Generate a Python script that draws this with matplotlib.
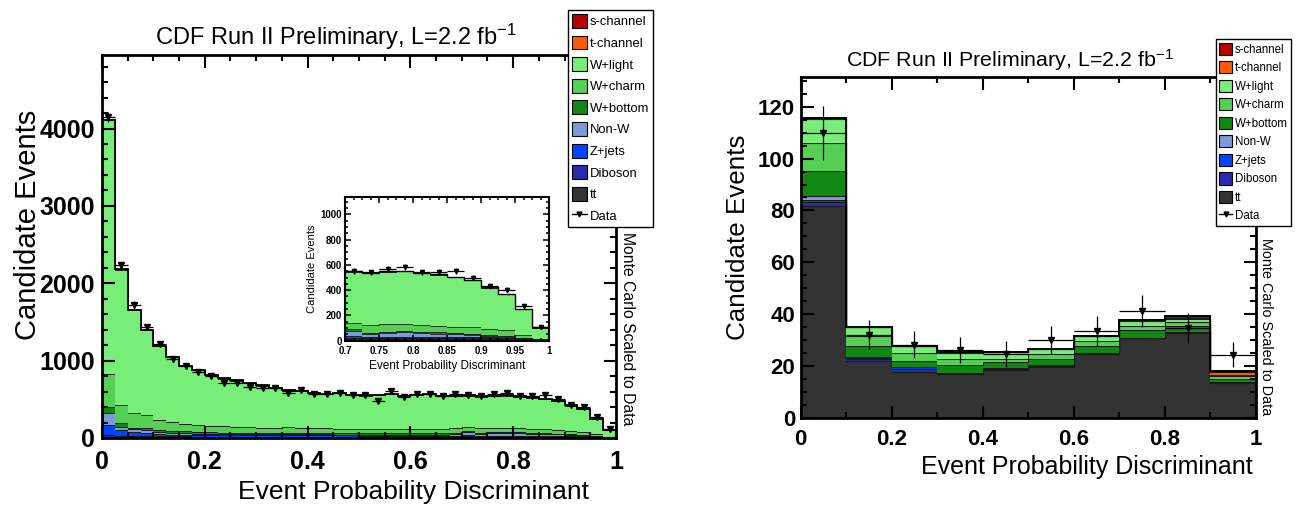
import numpy as np
import matplotlib
matplotlib.use("Agg")
import matplotlib.pyplot as plt
from matplotlib.patches import Patch
from matplotlib.lines import Line2D
from matplotlib.ticker import MultipleLocator, FuncFormatter

plt.rcParams["font.family"] = ["Liberation Sans", "DejaVu Sans"]
plt.rcParams["mathtext.default"] = "regular"

# ---------------------------------------------------------------------------
# Data
# ---------------------------------------------------------------------------

# legend order (top of stack first)
labels = ["s-channel", "t-channel", "W+light", "W+charm", "W+bottom",
          "Non-W", "Z+jets", "Diboson", "tt"]
colors = ["#b30000", "#ff5a00", "#77ee77", "#55d055", "#118811",
          "#7b9bd6", "#0044ff", "#2a2aaa", "#333333"]

# left panel: 40 bins from 0 to 1
left_tt = [12, 10, 10, 9, 9, 8, 8, 8, 8, 8, 8, 8, 8, 8, 8, 8, 8, 8, 8, 8,
           8, 8, 8, 8, 8, 8, 8, 8, 10, 10, 10, 10, 10, 10, 10, 10, 10, 8, 5, 3]
left_diboson = [25, 18, 16, 14, 13, 12, 12, 11, 11, 11, 11, 11, 11, 11, 11, 11, 11, 11, 11, 11,
                11, 11, 11, 11, 11, 11, 11, 11, 12, 12, 12, 12, 12, 11, 11, 11, 10, 8, 5, 2]
left_zjets = [130, 70, 50, 40, 28, 25, 22, 20, 18, 17, 16, 16, 15, 15, 14, 14, 14, 14, 14, 14,
              13, 13, 13, 13, 13, 13, 13, 13, 12, 10, 10, 10, 10, 10, 10, 10, 9, 7, 4, 2]
left_nonw = [160, 50, 35, 36, 25, 22, 20, 18, 16, 15, 15, 14, 14, 13, 20, 14, 13, 13, 12, 12,
             12, 12, 12, 12, 12, 12, 12, 20, 46, 25, 30, 35, 28, 25, 22, 16, 12, 10, 4, 2]
left_wbottom = [70, 45, 18, 30, 25, 24, 22, 20, 19, 18, 17, 17, 16, 16, 18, 16, 16, 15, 15, 15,
                15, 15, 15, 15, 15, 15, 15, 18, 13, 8, 10, 12, 12, 10, 9, 8, 7, 8, 4, 2]
left_wcharm = [430, 230, 195, 165, 130, 115, 100, 90, 85, 80, 75, 72, 70, 68, 72, 65, 62, 62, 60, 58,
               58, 60, 58, 56, 55, 55, 55, 62, 47, 58, 60, 55, 56, 52, 50, 53, 45, 40, 27, 3]
left_wlight = [3280, 1754, 1333, 1103, 957, 836, 748, 710, 660, 618, 600, 569, 543, 511, 469, 479,
               458, 449, 457, 439, 432, 438, 452, 427, 443, 453, 423, 407, 407, 412, 413, 415,
               406, 404, 390, 371, 326, 288, 200, 88]
left_tchan = [2, 2, 2, 2, 2, 2, 2, 2, 2, 2, 2, 2, 2, 2, 2, 2, 2, 2, 2, 2,
              2, 2, 2, 2, 2, 2, 2, 2, 2, 2, 2, 2, 2, 2, 2, 2, 2, 2, 2, 2]
left_schan = [1, 1, 1, 1, 1, 1, 1, 1, 1, 1, 1, 1, 1, 1, 1, 1, 1, 1, 1, 1,
              1, 1, 1, 1, 1, 1, 1, 1, 1, 1, 1, 1, 1, 1, 1, 1, 1, 1, 1, 1]
left_data = [4150, 2230, 1725, 1432, 1210, 1015, 927, 848, 802, 715, 715, 658, 645, 650, 586, 615,
             564, 564, 577, 551, 551, 477, 606, 529, 564, 564, 538, 564, 555, 540, 570, 580,
             540, 545, 550, 500, 430, 405, 275, 110]
left_err = [64, 47, 42, 38, 35, 32, 30, 29, 28, 27, 27, 26, 25, 25, 24, 25, 24, 24, 24, 23,
            23, 22, 25, 23, 24, 24, 23, 24, 24, 23, 24, 24, 23, 23, 23, 22, 21, 20, 17, 10]

# right panel: 10 bins from 0 to 1
right_tt = [81.7, 22.1, 17.9, 17.0, 18.5, 19.8, 24.7, 30.8, 32.8, 13.5]
right_diboson = [1.6, 0.9, 1.0, 0.4, 0.4, 0.3, 0.2, 0.1, 0.2, 0.2]
right_zjets = [0.9, 0.4, 0.7, 0.1, 0.2, 0.2, 0.1, 0.1, 0.1, 0.1]
right_nonw = [1.4, 0.3, 0.2, 0.1, 0.1, 0.2, 0.1, 0.1, 0.2, 0.2]
right_wbottom = [9.5, 4.2, 2.3, 3.0, 2.3, 2.5, 2.6, 2.9, 2.3, 1.3]
right_wcharm = [10.9, 3.8, 2.9, 2.4, 1.5, 1.7, 1.9, 1.6, 1.3, 1.0]
right_wlight = [9.4, 3.3, 2.8, 2.2, 2.4, 1.8, 1.9, 1.7, 1.3, 0.3]
right_tchan = [0.1, 0.1, 0.1, 0.3, 0.1, 0.1, 0.1, 0.4, 0.5, 1.2]
right_schan = [0.1, 0.1, 0.1, 0.1, 0.1, 0.1, 0.1, 0.3, 0.6, 0.4]
right_data = [110, 32.2, 28.3, 26.3, 24.7, 30.2, 33.5, 41.4, 34.6, 24.5]
right_err = [10.4, 5.7, 5.2, 5.0, 4.9, 5.5, 5.8, 6.1, 5.8, 4.8]

title = "CDF Run II Preliminary, L=2.2 fb$^{-1}$"

# ---------------------------------------------------------------------------
# Helpers
# ---------------------------------------------------------------------------

def draw_stack(ax, layers, data, err, lw_layer=0.8, lw_total=1.4, ms=4):
    """Stacked histogram (bottom first) with data points on top."""
    nb = len(data)
    edges = np.linspace(0, 1, nb + 1)
    base = np.zeros(nb)
    stack_colors = colors[::-1]
    for vals, col in zip(layers, stack_colors):
        top = base + np.asarray(vals, float)
        ax.stairs(top, edges, baseline=base, fill=True, facecolor=col,
                  edgecolor="none", linewidth=0)
        ax.stairs(top, edges, baseline=None, color="#1a1a1a", lw=lw_layer)
        base = top
    ax.stairs(base, edges, baseline=None, color="k", lw=lw_total)
    centers = 0.5 * (edges[:-1] + edges[1:])
    ax.errorbar(centers, data, yerr=err, xerr=0.5 / nb, fmt="v", color="k",
                ms=ms, lw=0.9, capsize=0, zorder=5)


def style_axes(ax, xmaj, xmin, ymaj, ymin, fs, lw=2.0, tl=9):
    for sp in ax.spines.values():
        sp.set_linewidth(lw)
    ax.xaxis.set_major_locator(MultipleLocator(xmaj))
    ax.xaxis.set_minor_locator(MultipleLocator(xmin))
    ax.yaxis.set_major_locator(MultipleLocator(ymaj))
    ax.yaxis.set_minor_locator(MultipleLocator(ymin))
    ax.xaxis.set_major_formatter(FuncFormatter(
        lambda v, p: "0" if abs(v) < 1e-9 else ("1" if abs(v - 1) < 1e-9 else f"{v:g}")))
    ax.tick_params(which="both", direction="in", top=True, right=True,
                   width=lw * 0.75, labelsize=fs)
    ax.tick_params(which="major", length=tl)
    ax.tick_params(which="minor", length=tl * 0.5)


def bold_ticks(ax):
    for t in ax.get_xticklabels() + ax.get_yticklabels():
        t.set_fontweight("bold")


def add_legend(anchor, fs, spacing):
    hs = [Patch(facecolor=c, edgecolor="k", lw=0.8) for c in colors]
    hs.append(Line2D([], [], color="k", marker="v", ms=3.5, lw=1))
    leg = fig.legend(hs, labels + ["Data"], loc="upper left", bbox_to_anchor=anchor,
                     fontsize=fs, handlelength=1.15, handleheight=1.25,
                     labelspacing=spacing, handletextpad=0.2, borderpad=0.3,
                     borderaxespad=0, fancybox=False, edgecolor="k", framealpha=1)
    leg.get_frame().set_linewidth(1.0)
    return leg

# ---------------------------------------------------------------------------
# Figure
# ---------------------------------------------------------------------------

fig = plt.figure(figsize=(12.96, 5.08), dpi=100)

left_layers = [left_tt, left_diboson, left_zjets, left_nonw, left_wbottom,
               left_wcharm, left_wlight, left_tchan, left_schan]
right_layers = [right_tt, right_diboson, right_zjets, right_nonw, right_wbottom,
                right_wcharm, right_wlight, right_tchan, right_schan]

# --- left panel ---
ax1 = fig.add_axes([0.0787, 0.1378, 0.3966, 0.7539])
draw_stack(ax1, left_layers, left_data, left_err, lw_layer=0.7, lw_total=1.3, ms=4)
ax1.set_xlim(0, 1)
ax1.set_ylim(0, 4950)
style_axes(ax1, 0.2, 0.05, 1000, 200, 18)
ax1.tick_params(axis="x", pad=9)
ax1.tick_params(axis="y", pad=5)
fig.text(0.2593, 0.927, title, fontsize=17, ha="center", va="center")
fig.text(0.0216, 0.557, "Candidate Events", fontsize=21, rotation=90,
         ha="center", va="center")
fig.text(0.319, 0.031, "Event Probability Discriminant", fontsize=19,
         ha="center", va="center")
fig.text(0.4838, 0.3524, "Monte Carlo Scaled to Data", fontsize=11.3,
         rotation=270, ha="center", va="center")

# inset
axin = fig.add_axes([0.2662, 0.3293, 0.1576, 0.2835])
draw_stack(axin, left_layers, left_data, left_err, lw_layer=0.6, lw_total=1.0, ms=3)
axin.set_xlim(0.7, 1)
axin.set_ylim(0, 1140)
style_axes(axin, 0.05, 0.0125, 200, 50, 7, lw=1.5, tl=4)
axin.tick_params(axis="x", pad=3.5)
axin.tick_params(axis="y", pad=2)
axin.set_ylabel("Candidate Events", fontsize=8, labelpad=3)
axin.set_xlabel("Event Probability Discriminant", fontsize=8.5, labelpad=3)

add_legend((0.4383, 0.980), 9.4, 0.56)

# --- right panel ---
ax2 = fig.add_axes([0.6178, 0.1766, 0.3513, 0.6724])
draw_stack(ax2, right_layers, right_data, right_err, lw_layer=0.8, lw_total=1.4, ms=4)
ax2.set_xlim(0, 1)
ax2.set_ylim(0, 131.5)
style_axes(ax2, 0.2, 0.1, 20, 5, 16)
ax2.tick_params(axis="x", pad=8)
ax2.tick_params(axis="y", pad=4)
fig.text(0.779, 0.882, title, fontsize=15.4, ha="center", va="center")
fig.text(0.5694, 0.5325, "Candidate Events", fontsize=18.7, rotation=90,
         ha="center", va="center")
fig.text(0.8387, 0.0807, "Event Probability Discriminant", fontsize=18,
         ha="center", va="center")
fig.text(0.9766, 0.358, "Monte Carlo Scaled to Data", fontsize=10.4,
         rotation=270, ha="center", va="center")

add_legend((0.938, 0.9226), 8.3, 0.48)

for a in (ax1, ax2, axin):
    bold_ticks(a)

fig.savefig("out.png", dpi=100)
plt.close(fig)
